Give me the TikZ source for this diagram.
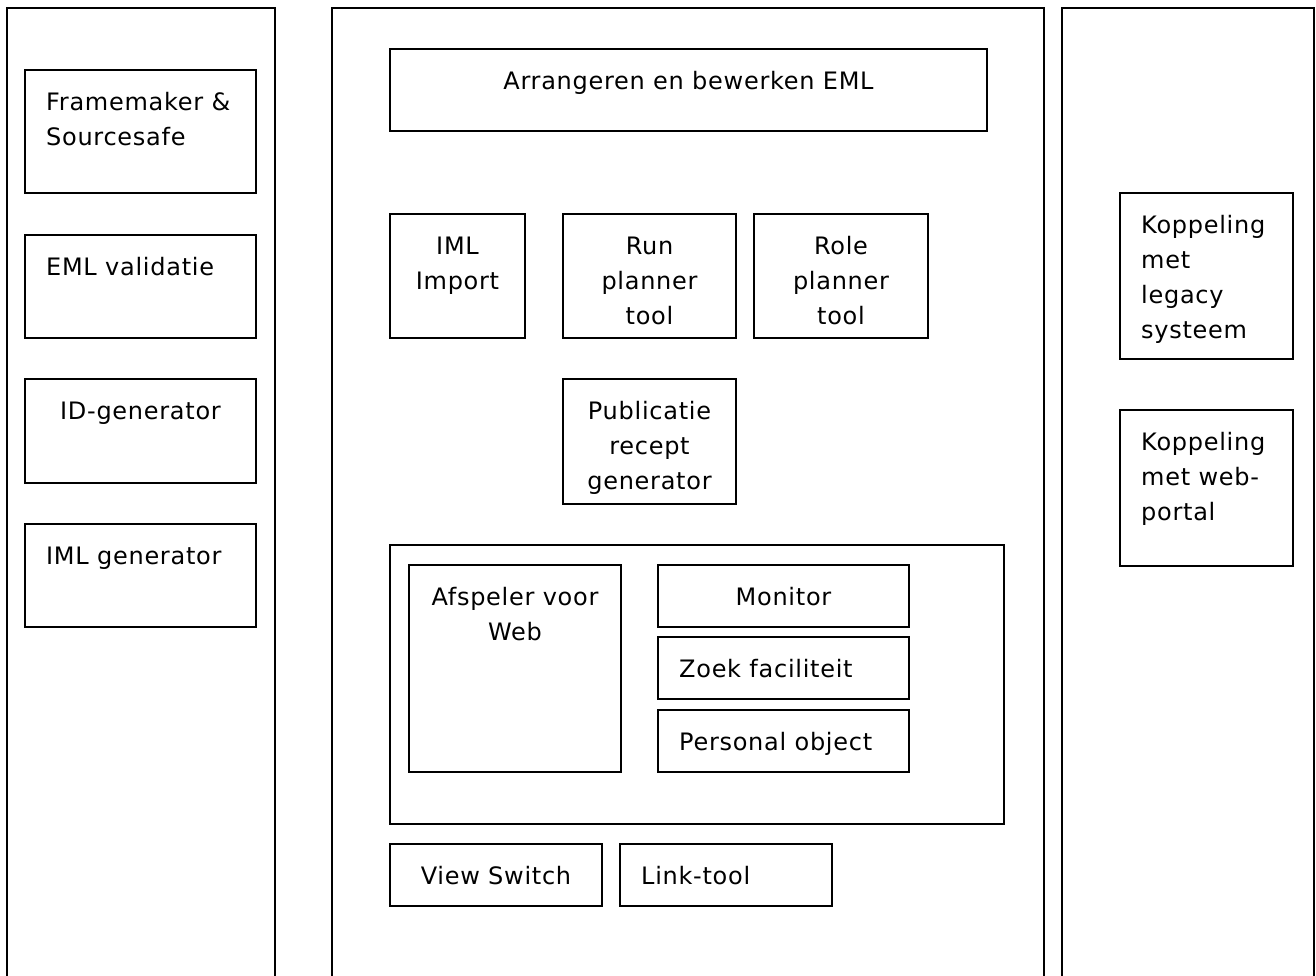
\documentclass[tikz,border=0pt]{standalone}
\usepackage{fontspec}
\setmainfont[LetterSpace=3]{DejaVu Sans}
\newcommand{\firstline}{\rule{0pt}{20pt}}
\tikzset{
  x=1pt, y=-1pt,
  frame/.style={line width=1.5pt, line cap=rect},
  box/.style={draw, line width=1.5pt, anchor=north west, inner sep=0pt, outer sep=0pt},
  txt/.style={inner sep=0pt, font={\fontsize{24}{35}\selectfont}},
  lefttxt/.style={txt, anchor=north west, align=left, xshift=21pt, yshift=-20pt},
  midtxt/.style={txt, anchor=north, align=center, yshift=-20pt},
}
\begin{document}
\begin{tikzpicture}
\useasboundingbox (0,0) rectangle (1316,976);

% the three columns, open at the bottom
\draw[frame] (7,980) -- (7,8) -- (275,8) -- (275,980);
\draw[frame] (332,980) -- (332,8) -- (1044,8) -- (1044,980);
\draw[frame] (1062,980) -- (1062,8) -- (1314,8) -- (1314,980);

% left column
\node[box, minimum width=231pt, minimum height=123pt] (fm) at (25,70) {};
\node[lefttxt] (fmt) at (fm.north west) {\firstline Framemaker \&\\Sourcesafe};
\node[box, minimum width=231pt, minimum height=103pt] (emlv) at (25,235) {};
\node[lefttxt] (emlvt) at (emlv.north west) {\firstline EML validatie};
\node[box, minimum width=231pt, minimum height=104pt] (idg) at (25,379) {};
\node[midtxt] (idgt) at (idg.north) {\firstline ID-generator};
\node[box, minimum width=231pt, minimum height=103pt] (imlg) at (25,524) {};
\node[lefttxt] (imlgt) at (imlg.north west) {\firstline IML generator};

% middle column
\node[box, minimum width=597pt, minimum height=82pt] (arr) at (390,49) {};
\node[midtxt] (arrt) at (arr.north) {\firstline Arrangeren en bewerken EML};
\node[box, minimum width=135pt, minimum height=124pt] (imli) at (390,214) {};
\node[midtxt] (imlit) at (imli.north) {\firstline IML\\Import};
\node[box, minimum width=173pt, minimum height=124pt] (run) at (563,214) {};
\node[midtxt] (runt) at (run.north) {\firstline Run\\planner\\tool};
\node[box, minimum width=174pt, minimum height=124pt] (role) at (754,214) {};
\node[midtxt] (rolet) at (role.north) {\firstline Role\\planner\\tool};
\node[box, minimum width=173pt, minimum height=125pt] (pub) at (563,379) {};
\node[midtxt] (pubt) at (pub.north) {\firstline Publicatie\\recept\\generator};

\node[box, minimum width=614pt, minimum height=279pt] (play) at (390,545) {};
\node[box, minimum width=212pt, minimum height=207pt] (afs) at (409,565) {};
\node[midtxt] (afst) at (afs.north) {\firstline Afspeler voor\\Web};
\node[box, minimum width=251pt, minimum height=62pt] (mon) at (658,565) {};
\node[midtxt] (mont) at (mon.north) {\firstline Monitor};
\node[box, minimum width=251pt, minimum height=62pt] (zoek) at (658,637) {};
\node[lefttxt] (zoekt) at (zoek.north west) {\firstline Zoek faciliteit};
\node[box, minimum width=251pt, minimum height=62pt] (pers) at (658,710) {};
\node[lefttxt] (perst) at (pers.north west) {\firstline Personal object};

\node[box, minimum width=212pt, minimum height=62pt] (view) at (390,844) {};
\node[midtxt] (viewt) at (view.north) {\firstline View Switch};
\node[box, minimum width=212pt, minimum height=62pt] (link) at (620,844) {};
\node[lefttxt] (linkt) at (link.north west) {\firstline Link-tool};

% right column
\node[box, minimum width=173pt, minimum height=166pt] (kl) at (1120,193) {};
\node[lefttxt] (klt) at (kl.north west) {\firstline Koppeling\\met\\legacy\\systeem};
\node[box, minimum width=173pt, minimum height=156pt] (kw) at (1120,410) {};
\node[lefttxt] (kwt) at (kw.north west) {\firstline Koppeling\\met web-\\portal};
\end{tikzpicture}
\end{document}
